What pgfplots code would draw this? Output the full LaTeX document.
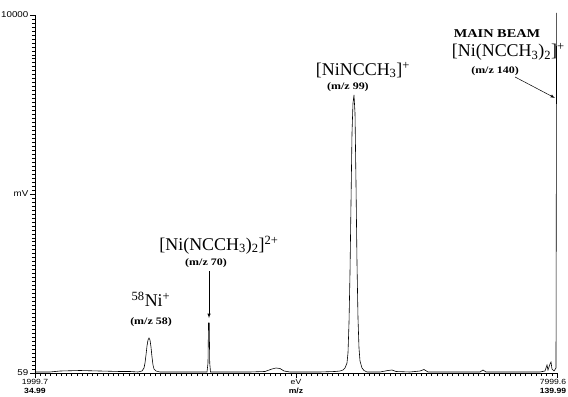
\documentclass[border=0pt]{standalone}
\usepackage{fontspec}
\setmainfont{Liberation Serif}
\newfontfamily\ticksf[FakeStretch=1.15]{Liberation Sans}
\newfontfamily\annf{Liberation Serif}
\newfontfamily\annsf[FakeStretch=1.2]{Liberation Serif}
\usepackage{pgfplots}
\pgfplotsset{compat=1.18}
\pgfplotstableread{
x y
1999.7 86.8
2172.1 86.8
2287.1 114.5
2516.9 128.4
2746.8 114.5
2976.7 100.7
3091.6 100.7
3183.6 86.8
3229.6 114.5
3252.5 197.9
3264.0 336.7
3275.5 558.9
3287.0 808.8
3298.5 975.4
3310.0 1031
3321.5 975.4
3333.0 781
3344.5 503.3
3356.0 281.2
3367.5 170.1
3390.5 114.5
3436.5 86.8
3666.3 86.8
3896.2 86.8
3976.7 86.8
3988.2 336.7
3994.0 1447.5
4002.0 1447.5
4008.0 336.7
4017.0 86.8
4126.0 86.8
4471.0 86.8
4643.3 100.7
4723.8 170.1
4769.7 197.9
4815.7 184
4861.7 114.5
4930.7 86.8
5045.6 86.8
5275.5 86.8
5447.9 100.7
5505.4 114.5
5539.8 142.3
5562.8 197.9
5585.8 336.7
5597.3 614.4
5608.8 1447.5
5620.3 2836
5631.8 4779.9
5643.3 6723.8
5654.8 7556.9
5666.3 7779.1
5677.8 7279.2
5689.2 5335.3
5700.7 3113.7
5712.2 1586.4
5723.7 753.3
5735.2 392.2
5758.2 197.9
5781.2 128.4
5815.7 86.8
5965.1 86.8
6057.1 128.4
6103.0 142.3
6149.0 100.7
6310.0 86.8
6424.9 114.5
6470.9 156.2
6516.9 86.8
7114.5 86.8
7149.0 142.3
7183.5 86.8
7804.2 86.8
7861.6 114.5
7884.6 281.2
7896.1 142.3
7919.1 309
7930.6 364.5
7942.1 170.1
7965.1 114.5
7988.1 197.9
7995.0 10056
}\spectrum
\begin{document}
\begin{tikzpicture}[x=1bp,y=1bp]
\useasboundingbox (-35bp,-24bp) rectangle (533bp,373bp);
\begin{axis}[
  at={(0,0)}, anchor=south west,
  scale only axis, width=522bp, height=358bp,
  xmin=1999.7, xmax=7999.6, ymin=59, ymax=10000,
  scaled y ticks=false, scaled x ticks=false,
  axis lines*=left,
  axis line style={line width=0.8pt},
  tick align=outside,
  major tick length=5bp, minor tick length=3bp,
  tick style={black, line width=0.5pt},
  xtick={1999.7,4999.65,7999.6},
  xticklabels={{1999.7\\\textbf{34.99}},{eV\\\textbf{m/z}},{\hspace*{-8bp}7999.6\\\hspace*{-8bp}\textbf{139.99}}},
  xticklabel style={align=center, font=\ticksf\fontsize{7.5}{9}\selectfont, inner sep=1pt},
  minor x tick num=49,
  ytick={59,5029.5,10000},
  yticklabels={59,mV,10000},
  yticklabel style={font=\ticksf\fontsize{8.5}{9}\selectfont, inner sep=1.5pt},
  minor y tick num=44,
  clip=false,
]
\addplot[black, line width=0.6pt] table[x=x,y=y] {\spectrum};
\node[font=\annsf\bfseries\fontsize{12}{13}\selectfont] at (axis cs:7310,9473) {MAIN BEAM};
\node[font=\annf\fontsize{18}{19}\selectfont] at (axis cs:7440,8973) {[Ni(NCCH\textsubscript{3})\textsubscript{2}]\textsuperscript{+}};
\node[font=\annsf\bfseries\fontsize{10}{11}\selectfont] at (axis cs:7287,8446) {(m/z 140)};
\draw[-latex, line width=0.5pt] (axis cs:7517,8279) -- (axis cs:7976,7696);
\node[font=\annf\fontsize{18}{19}\selectfont] at (axis cs:5770,8473) {[NiNCCH\textsubscript{3}]\textsuperscript{+}};
\node[font=\annsf\bfseries\fontsize{10}{11}\selectfont] at (axis cs:5597,8001) {(m/z 99)};
\node[font=\annf\fontsize{18}{19}\selectfont] at (axis cs:4114,3613) {[Ni(NCCH\textsubscript{3})\textsubscript{2}]\textsuperscript{2+}};
\node[font=\annsf\bfseries\fontsize{10}{11}\selectfont] at (axis cs:3965,3114) {(m/z 70)};
\draw[-latex, line width=0.5pt] (axis cs:4000,2891) -- (axis cs:4000,1586);
\node[font=\annf\fontsize{18}{19}\selectfont] at (axis cs:3333,2114) {\textsuperscript{58}Ni\textsuperscript{+}};
\node[font=\annsf\bfseries\fontsize{10}{11}\selectfont] at (axis cs:3333,1475) {(m/z 58)};
\end{axis}
\end{tikzpicture}
\end{document}
